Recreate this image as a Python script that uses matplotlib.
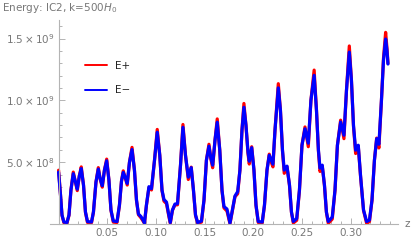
import matplotlib
matplotlib.use("Agg")
import matplotlib.pyplot as plt
from matplotlib.ticker import MultipleLocator, FixedLocator, FixedFormatter

# ---- data ----
z = [0.0000, 0.0020, 0.0035, 0.0055, 0.0086, 0.0107, 0.0127, 0.0151, 0.0174, 0.0192,
     0.0213, 0.0233, 0.0256, 0.0276, 0.0297, 0.0338, 0.0358, 0.0384, 0.0408, 0.0428,
     0.0449, 0.0471, 0.0494, 0.0517, 0.0538, 0.0562, 0.0600, 0.0625, 0.0646, 0.0664,
     0.0687, 0.0705, 0.0728, 0.0754, 0.0779, 0.0800, 0.0820, 0.0846, 0.0867, 0.0882,
     0.0902, 0.0928, 0.0954, 0.0985, 0.1013, 0.1039, 0.1062, 0.1082, 0.1108, 0.1128,
     0.1147, 0.1169, 0.1195, 0.1221, 0.1252, 0.1277, 0.1303, 0.1332, 0.1362, 0.1385,
     0.1406, 0.1428, 0.1467, 0.1493, 0.1518, 0.1544, 0.1564, 0.1582, 0.1606, 0.1629,
     0.1655, 0.1678, 0.1698, 0.1729, 0.1744, 0.1760, 0.1785, 0.1811, 0.1839, 0.1862,
     0.1883, 0.1903, 0.1924, 0.1945, 0.1958, 0.1983, 0.2006, 0.2027, 0.2050, 0.2091,
     0.2114, 0.2140, 0.2163, 0.2184, 0.2201, 0.2222, 0.2256, 0.2278, 0.2299, 0.2317,
     0.2345, 0.2371, 0.2391, 0.2410, 0.2445, 0.2473, 0.2499, 0.2530, 0.2564, 0.2591,
     0.2624, 0.2648, 0.2668, 0.2684, 0.2707, 0.2730, 0.2750, 0.2769, 0.2810, 0.2838,
     0.2863, 0.2896, 0.2930, 0.2956, 0.2985, 0.3007, 0.3028, 0.3050, 0.3077, 0.3100,
     0.3131, 0.3163, 0.3192, 0.3218, 0.3243, 0.3266, 0.3289, 0.3315, 0.3336, 0.3358,
     0.3372, 0.3382]

# E- (blue), units of 1e8
e_minus = [4.19, 2.34, 0.73, 0.16, 0.12, 0.73, 2.74, 4.07, 3.39, 2.82,
           3.87, 4.48, 3.15, 0.97, 0.20, 0.16, 0.97, 3.39, 4.44, 3.63,
           3.10, 4.36, 5.11, 3.55, 1.13, 0.24, 0.20, 1.53, 3.47, 4.17,
           3.71, 3.28, 5.00, 6.02, 4.36, 1.94, 0.81, 0.60, 0.32, 0.08,
           1.53, 3.02, 2.86, 5.16, 7.42, 5.56, 2.74, 1.98, 1.77, 0.89,
           0.12, 1.13, 1.61, 1.65, 4.76, 7.82, 5.56, 3.79, 4.56, 2.74,
           0.73, 0.12, 0.24, 1.94, 5.16, 6.29, 5.32, 4.76, 6.77, 8.23,
           5.97, 2.74, 1.41, 1.21, 0.65, 0.08, 1.13, 2.26, 2.62, 4.36,
           7.58, 9.44, 7.98, 5.81, 5.08, 6.17, 4.36, 1.53, 0.20, 0.16,
           1.53, 4.36, 5.56, 5.16, 4.84, 7.58, 11.01, 9.19, 5.97, 4.36,
           4.68, 3.15, 0.97, 0.20, 0.44, 2.74, 6.37, 7.70, 6.53, 10.00,
           12.02, 9.19, 5.97, 4.52, 4.76, 3.15, 0.97, 0.20, 0.56, 2.74,
           6.37, 8.25, 7.18, 10.81, 13.90, 11.61, 7.98, 5.97, 6.37, 3.95,
           1.13, 0.20, 0.32, 1.94, 5.16, 6.90, 6.45, 10.00, 13.23, 14.96,
           14.03, 12.94]

# E+ (red), units of 1e8
e_plus = [4.35, 2.34, 0.70, 0.10, 0.08, 0.70, 2.74, 4.20, 3.35, 2.70,
          3.90, 4.62, 3.15, 0.95, 0.12, 0.10, 0.95, 3.39, 4.56, 3.60,
          2.98, 4.36, 5.25, 3.55, 1.10, 0.15, 0.12, 1.50, 3.47, 4.30,
          3.65, 3.15, 5.00, 6.20, 4.36, 1.90, 0.75, 0.50, 0.25, 0.05,
          1.50, 2.95, 2.75, 5.16, 7.65, 5.56, 2.70, 1.85, 1.65, 0.80,
          0.05, 1.10, 1.55, 1.55, 4.76, 8.05, 5.56, 3.60, 4.60, 2.70,
          0.70, 0.05, 0.15, 1.90, 5.16, 6.45, 5.25, 4.55, 6.77, 8.50,
          5.97, 2.70, 1.30, 1.05, 0.55, 0.02, 1.10, 2.20, 2.45, 4.36,
          7.58, 9.75, 7.98, 5.70, 4.85, 6.25, 4.36, 1.50, 0.12, 0.10,
          1.50, 4.36, 5.65, 5.00, 4.62, 7.58, 11.35, 9.19, 5.90, 4.10,
          4.65, 3.10, 0.95, 0.08, 0.30, 2.70, 6.37, 7.85, 6.25, 10.00,
          12.45, 9.19, 5.90, 4.25, 4.70, 3.10, 0.95, 0.05, 0.40, 2.70,
          6.37, 8.40, 6.90, 10.81, 14.40, 11.61, 7.90, 5.70, 6.30, 3.90,
          1.10, 0.05, 0.20, 1.90, 5.16, 6.95, 6.15, 10.00, 13.40, 15.50,
          14.20, 13.00]

scale = 1e8
x_major = [0.05, 0.10, 0.15, 0.20, 0.25, 0.30]
x_labels = ["0.05", "0.10", "0.15", "0.20", "0.25", "0.30"]
y_major = [5e8, 1.0e9, 1.5e9]
y_labels = [r"$\mathregular{5.0\times10^{8}}$", r"$\mathregular{1.0\times10^{9}}$",
            r"$\mathregular{1.5\times10^{9}}$"]

W, H = 411, 243
fig = plt.figure(figsize=(W / 100, H / 100), dpi=100)
ax = fig.add_axes([50 / W, 19 / H, (398 - 50) / W, (224 - 20) / H])

ep = [v * scale for v in e_plus]
em = [v * scale for v in e_minus]
ax.plot(z, ep, color="#ff0000", lw=2.3, solid_joinstyle="round", solid_capstyle="round", label="E+")
ax.plot(z, em, color="#0000ff", lw=2.3, solid_joinstyle="round", solid_capstyle="round", label="E\u2212")

ax.set_xlim(-0.0088, 0.3485)
ax.set_ylim(0, 1.65e9)

axis_col = "#b4b4b4"
text_col = "#777777"
for s in ["top", "right"]:
    ax.spines[s].set_visible(False)
ax.spines["left"].set_position(("data", 0))
for s in ["left", "bottom"]:
    ax.spines[s].set_color(axis_col)
    ax.spines[s].set_linewidth(0.8)

ax.xaxis.set_major_locator(FixedLocator(x_major))
ax.xaxis.set_major_formatter(FixedFormatter(x_labels))
ax.xaxis.set_minor_locator(MultipleLocator(0.01))
ax.yaxis.set_major_locator(FixedLocator(y_major))
ax.yaxis.set_major_formatter(FixedFormatter(y_labels))
ax.yaxis.set_minor_locator(MultipleLocator(1e8))

ax.tick_params(which="both", direction="in", color=axis_col, labelcolor=text_col,
               labelsize=7.5, width=0.7)
ax.tick_params(which="major", length=4, pad=3)
ax.tick_params(which="minor", length=2.2)
ax.patch.set_visible(False)

fig.text(2 / W, 1 - 8 / H, r"Energy: IC2, k=500$\mathit{H}_0$", color=text_col,
         fontsize=7.5, va="center", ha="left")
fig.text(404 / W, 1 - 224 / H, "z", color=text_col, fontsize=7.5, va="center", ha="left")

leg = ax.legend(loc="upper left", bbox_to_anchor=(0.1006, 0.80), frameon=False,
                fontsize=7.5, handlelength=2.1, handletextpad=0.8, labelspacing=1.4,
                borderaxespad=0, borderpad=0)
for t in leg.get_texts():
    t.set_color("#222222")
for ln in leg.get_lines():
    ln.set_linewidth(1.4)

fig.savefig("out.png", dpi=100)
